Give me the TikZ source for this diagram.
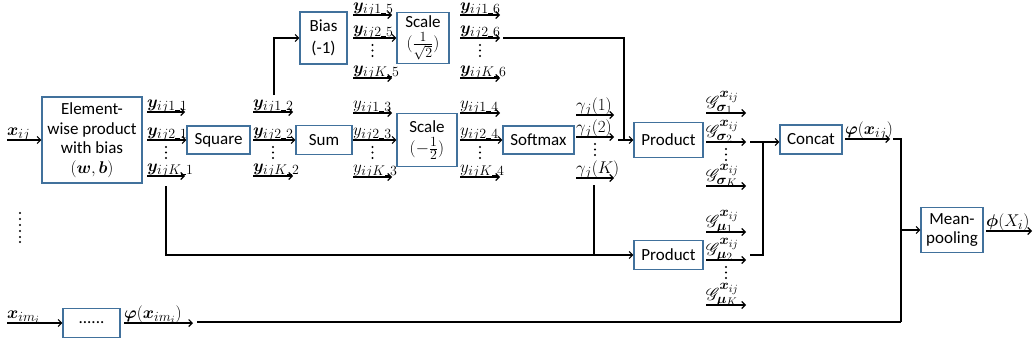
\RequirePackage{fix-cm}
\documentclass[tikz,border=0pt]{standalone}
\usepackage{amsmath}
\usepackage[no-math]{fontspec}
\setmainfont{Carlito}
\usepackage{bm}
\usepackage{mathrsfs}
\DeclareMathSizes{17}{17}{14}{11}
\usetikzlibrary{arrows.meta}
\definecolor{boxblue}{RGB}{65,113,156}
\newcommand\usc{\mathord{\rule[-0.2pt]{5pt}{0.7pt}}}
\tikzset{
 box/.style={draw=boxblue, line width=1.3pt, fill=white, align=center, inner sep=0pt, font=\fontsize{17}{19.5}\selectfont},
 arr/.style={line width=1.1pt, -{Straight Barb[length=3.5pt,width=7pt]}},
 wire/.style={line width=1.1pt},
 lbl/.style={anchor=base west, inner sep=0pt, yshift=5pt, font=\fontsize{17}{19}\selectfont},
 dot/.style={fill=black},
}
\newcommand\fan[9]{%
  \coordinate (#1s1) at (#2,#4); \coordinate (#1e1) at (#3,#4);
  \coordinate (#1s2) at (#2,#5); \coordinate (#1e2) at (#3,#5);
  \coordinate (#1sK) at (#2,#6); \coordinate (#1eK) at (#3,#6);
  \draw[arr] (#1s1) -- (#1e1);
  \draw[arr] (#1sK) -- (#1eK);
  \node[lbl] (#1l1) at (#1s1) {$#7$};
  \node[lbl] (#1l2) at (#1s2) {$#8$};
  \node[lbl] (#1lK) at (#1sK) {$#9$};
  \path (#1s2) -- (#1e2) coordinate[pos=0.5] (#1m);
  \foreach \d in {7,12.5,18} \fill[dot] (#1m) ++(0,\d) circle (1.2pt);
}
\begin{document}
\begin{tikzpicture}[x=1pt,y=-1pt]
\useasboundingbox (0,0) rectangle (1034,348);
% boxes
\node[box, minimum width=100pt, minimum height=86pt] (elem) at (92,140) {Element-\\wise product\\with bias\\$(\bm{w},\bm{b})$};
\node[box, minimum width=63pt, minimum height=28pt] (sq) at (218.5,140) {Square};
\node[box, minimum width=56pt, minimum height=29pt] (sum) at (324,140) {Sum};
\node[box, minimum width=47pt, minimum height=52pt] (bias) at (323.5,38) {Bias\\[2pt](-1)};
\node[box, minimum width=52pt, minimum height=51pt] (sc1) at (423,38) {Scale\\[1pt]$(\frac{1}{\sqrt{2}})$};
\node[box, minimum width=60pt, minimum height=53pt] (sc2) at (427,140) {Scale\\[1pt]$(-\frac{1}{2})$};
\node[box, minimum width=71pt, minimum height=28pt] (soft) at (538.5,140) {Softmax};
\node[box, minimum width=69pt, minimum height=35pt] (prod1) at (668.5,140) {Product};
\node[box, minimum width=69pt, minimum height=29pt] (prod2) at (668.5,255) {Product};
\node[box, minimum width=62pt, minimum height=29pt] (concat) at (811,139.5) {Concat};
\node[box, minimum width=62pt, minimum height=45pt] (mp) at (952,230) {Mean-\\pooling};
\node[box, minimum width=57pt, minimum height=29pt] (dbox) at (91.5,323) {......};
% input
\coordinate (xin) at (7,140);
\draw[arr] (xin) -- (elem);
\node[lbl] (xinl) at (xin) {$\bm{x}_{ij}$};
% fans
\fan{a}{147}{185}{112}{140}{176}{\bm{y}_{ij1\usc1}}{\bm{y}_{ij2\usc1}}{\bm{y}_{ijK\usc1}}
\draw[arr] (as2) -- (sq);
\fan{b}{253}{293}{112}{140}{176}{\bm{y}_{ij1\usc2}}{\bm{y}_{ij2\usc2}}{\bm{y}_{ijK\usc2}}
\draw[arr] (bs2) -- (sum);
\coordinate (bup) at (274,95);
\draw[arr] (bup) |- (bias);
\fan{c}{353}{392}{15}{38}{78}{\bm{y}_{ij1\usc5}}{\bm{y}_{ij2\usc5}}{\bm{y}_{ijK\usc5}}
\draw[arr] (cs2) -- (sc1);
\fan{d}{460}{500}{15}{38}{78}{\bm{y}_{ij1\usc6}}{\bm{y}_{ij2\usc6}}{\bm{y}_{ijK\usc6}}
\draw[arr] (ds2) -- (de2);
\coordinate (dx) at (503,38);
\coordinate (pjoin) at (624,140);
\draw[wire] (dx) -| (pjoin);
\coordinate (pin) at (618,140);
\draw[arr] (pin) -- (prod1);
\fan{e}{353}{392}{113}{140}{177}{y_{ij1\usc3}}{y_{ij2\usc3}}{y_{ijK\usc3}}
\draw[arr] (es2) -- (sc2);
\fan{f}{460}{500}{113}{140}{177}{y_{ij1\usc4}}{y_{ij2\usc4}}{y_{ijK\usc4}}
\draw[arr] (fs2) -- (soft);
\fan{g}{576}{614}{115}{137}{178}{\gamma_j(1)}{\gamma_j(2)}{\gamma_j(K)}
\draw[arr] (gs2) -- (ge2);
% lower path to product 2
\coordinate (adown) at (166,186);
\draw[arr] (adown) |- (prod2);
\coordinate (gdown) at (594,185);
\coordinate (gjoin) at (594,255);
\draw[wire] (gdown) -- (gjoin);
% product outputs
\fan{h}{706}{746}{113}{142}{186}{\mathscr{G}^{\bm{x}_{ij}}_{\bm{\sigma}_1}}{\mathscr{G}^{\bm{x}_{ij}}_{\bm{\sigma}_2}}{\mathscr{G}^{\bm{x}_{ij}}_{\bm{\sigma}_K}}
\draw[arr] (hs2) -- (he2);
\fan{i}{706}{746}{232}{260}{305}{\mathscr{G}^{\bm{x}_{ij}}_{\bm{\mu}_1}}{\mathscr{G}^{\bm{x}_{ij}}_{\bm{\mu}_2}}{\mathscr{G}^{\bm{x}_{ij}}_{\bm{\mu}_K}}
\draw[arr] (is2) -- (ie2);
\coordinate (hj) at (750,142);
\draw[arr] (hj) -- (hj -| concat.west);
\coordinate (vj) at (763,142);
\coordinate (ij) at (750,255);
\draw[wire] (ij) -| (vj);
% concat output
\coordinate (cs) at (845,139);
\coordinate (ce) at (890,139);
\draw[arr] (cs) -- (ce);
\node[lbl] (phil) at (cs) {$\bm{\varphi}(\bm{x}_{ij})$};
\coordinate (cj) at (893,139);
\coordinate (vb) at (901,322);
\draw[wire] (cj) -| (vb);
\coordinate (mj) at (901,230);
\draw[arr] (mj) -- (mp);
\coordinate (ms) at (986,231);
\coordinate (me) at (1032,231);
\draw[arr] (ms) -- (me);
\node[lbl] (mpl) at (ms) {$\bm{\phi}(X_i)$};
% bottom row
\coordinate (xm) at (7,323);
\draw[arr] (xm) -- (dbox);
\node[lbl] (xml) at (xm) {$\bm{x}_{im_i}$};
\coordinate (ps) at (124,323);
\coordinate (pe) at (193,323);
\draw[arr] (ps) -- (pe);
\node[lbl] (pl) at (ps) {$\bm{\varphi}(\bm{x}_{im_i})$};
\coordinate (bs) at (197,322);
\draw[wire] (bs) -- (vb);
% left vertical dots
\foreach \yy in {213,219,225,231,237,242} \fill[dot] (20,\yy) circle (1.2pt);
\end{tikzpicture}
\end{document}
